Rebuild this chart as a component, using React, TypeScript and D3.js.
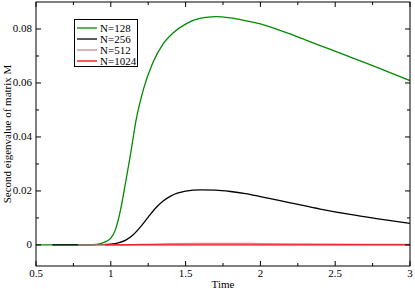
import React from "react";
import * as d3 from "d3";

const seriesNames = ["N=128", "N=256", "N=512", "N=1024"];
const seriesColors = ["#008b00", "#000000", "#bc8f8f", "#ff0000"];

const t128 = [0.5, 0.6, 0.7, 0.8, 0.88, 0.93, 0.97, 1.0, 1.03, 1.06, 1.1, 1.13, 1.17, 1.22, 1.28, 1.35, 1.42, 1.5, 1.6, 1.7, 1.8, 1.9, 2.0, 2.15, 2.3, 2.45, 2.6, 2.75, 2.9, 3.0];
const v128 = [0, 0, 0, 0, 0.0001, 0.0005, 0.0013, 0.0025, 0.0055, 0.0117, 0.0235, 0.033, 0.0465, 0.058, 0.0674, 0.0745, 0.0787, 0.0818, 0.084, 0.0846, 0.0841, 0.0831, 0.0819, 0.0791, 0.076, 0.0728, 0.0696, 0.0664, 0.0631, 0.0609];

const t256 = [0.61, 0.8, 0.95, 1.0, 1.05, 1.1, 1.15, 1.2, 1.25, 1.3, 1.35, 1.4, 1.5, 1.6, 1.7, 1.8, 1.9, 2.0, 2.2, 2.4, 2.6, 2.8, 3.0];
const v256 = [0, 0, 0.0001, 0.0003, 0.0008, 0.0018, 0.0038, 0.0068, 0.0103, 0.0137, 0.0163, 0.0181, 0.0199, 0.0204, 0.0203, 0.0198, 0.019, 0.0179, 0.0156, 0.0133, 0.0113, 0.0096, 0.008];

const t512 = [0.78, 1.0, 1.2, 1.4, 1.6, 1.8, 2.0, 2.5, 3.0];
const v512 = [0, 0, 0.0002, 0.0005, 0.0006, 0.0006, 0.0005, 0.0003, 0.0002];

const t1024 = [0.96, 1.5, 2.0, 2.5, 3.0];
const v1024 = [0, 0, 0, 0, 0];

const xTicks = [0.5, 1, 1.5, 2, 2.5, 3];
const xTickLabels = ["0.5", "1", "1.5", "2", "2.5", "3"];
const xMinor = [0.75, 1.25, 1.75, 2.25, 2.75];
const yTicks = [0, 0.02, 0.04, 0.06, 0.08];
const yTickLabels = ["0", "0.02", "0.04", "0.06", "0.08"];
const yMinor = [0.01, 0.03, 0.05, 0.07];

const W = 415, H = 289;
const L = 36, R = 410, T = 2, B = 266;

export default function App() {
  const x = d3.scaleLinear().domain([0.5, 3]).range([L, R]);
  const y = d3.scaleLinear().domain([-0.0078, 0.09]).range([B, T]);
  const line = d3
    .line<[number, number]>()
    .x((d) => x(d[0]))
    .y((d) => y(d[1]))
    .curve(d3.curveMonotoneX);
  const ts = [t128, t256, t512, t1024];
  const vs = [v128, v256, v512, v1024];
  const major = 5, minor = 3;
  const tf = { fontFamily: "'Liberation Serif'", fontSize: 11 };
  return (
    <svg width={W} height={H} style={{ position: "fixed", left: 0, top: 0, background: "#fff" }}>
      <defs>
        <clipPath id="clip">
          <rect x={L} y={T} width={R - L} height={B - T} />
        </clipPath>
      </defs>
      <g clipPath="url(#clip)">
        {ts.map((tt, i) => (
          <path
            key={i}
            d={line(tt.map((t, j) => [t, vs[i][j]] as [number, number])) || ""}
            fill="none"
            stroke={seriesColors[i]}
            strokeWidth={1.3}
          />
        ))}
      </g>
      <rect x={L} y={T} width={R - L} height={B - T} fill="none" stroke="#000" strokeWidth={1} />
      {xTicks.map((v, i) => (
        <g key={"xt" + i}>
          <line x1={x(v)} x2={x(v)} y1={B} y2={B - major} stroke="#000" />
          <line x1={x(v)} x2={x(v)} y1={T} y2={T + major} stroke="#000" />
          <text x={x(v)} y={277} style={tf} textAnchor="middle">{xTickLabels[i]}</text>
        </g>
      ))}
      {xMinor.map((v, i) => (
        <g key={"xm" + i}>
          <line x1={x(v)} x2={x(v)} y1={B} y2={B - minor} stroke="#000" />
          <line x1={x(v)} x2={x(v)} y1={T} y2={T + minor} stroke="#000" />
        </g>
      ))}
      {yTicks.map((v, i) => (
        <g key={"yt" + i}>
          <line x1={L} x2={L + major} y1={y(v)} y2={y(v)} stroke="#000" />
          <line x1={R} x2={R - major} y1={y(v)} y2={y(v)} stroke="#000" />
          <text x={32} y={y(v) + 3.5} style={tf} textAnchor="end">{yTickLabels[i]}</text>
        </g>
      ))}
      {yMinor.map((v, i) => (
        <g key={"ym" + i}>
          <line x1={L} x2={L + minor} y1={y(v)} y2={y(v)} stroke="#000" />
          <line x1={R} x2={R - minor} y1={y(v)} y2={y(v)} stroke="#000" />
        </g>
      ))}
      <text x={(L + R) / 2} y={288} style={tf} textAnchor="middle">Time</text>
      <text transform={`translate(11,${(T + B) / 2}) rotate(-90)`} style={tf} textAnchor="middle">
        Second eigenvalue of matrix M
      </text>
      <rect x={74.5} y={19.5} width={63} height={47} fill="#fff" stroke="#000" strokeWidth={1} />
      {seriesNames.map((n, i) => (
        <g key={"lg" + i}>
          <line x1={77} x2={97} y1={28 + i * 11} y2={28 + i * 11} stroke={seriesColors[i]} strokeWidth={1.3} />
          <text x={100} y={32 + i * 11} style={tf}>{n}</text>
        </g>
      ))}
    </svg>
  );
}
